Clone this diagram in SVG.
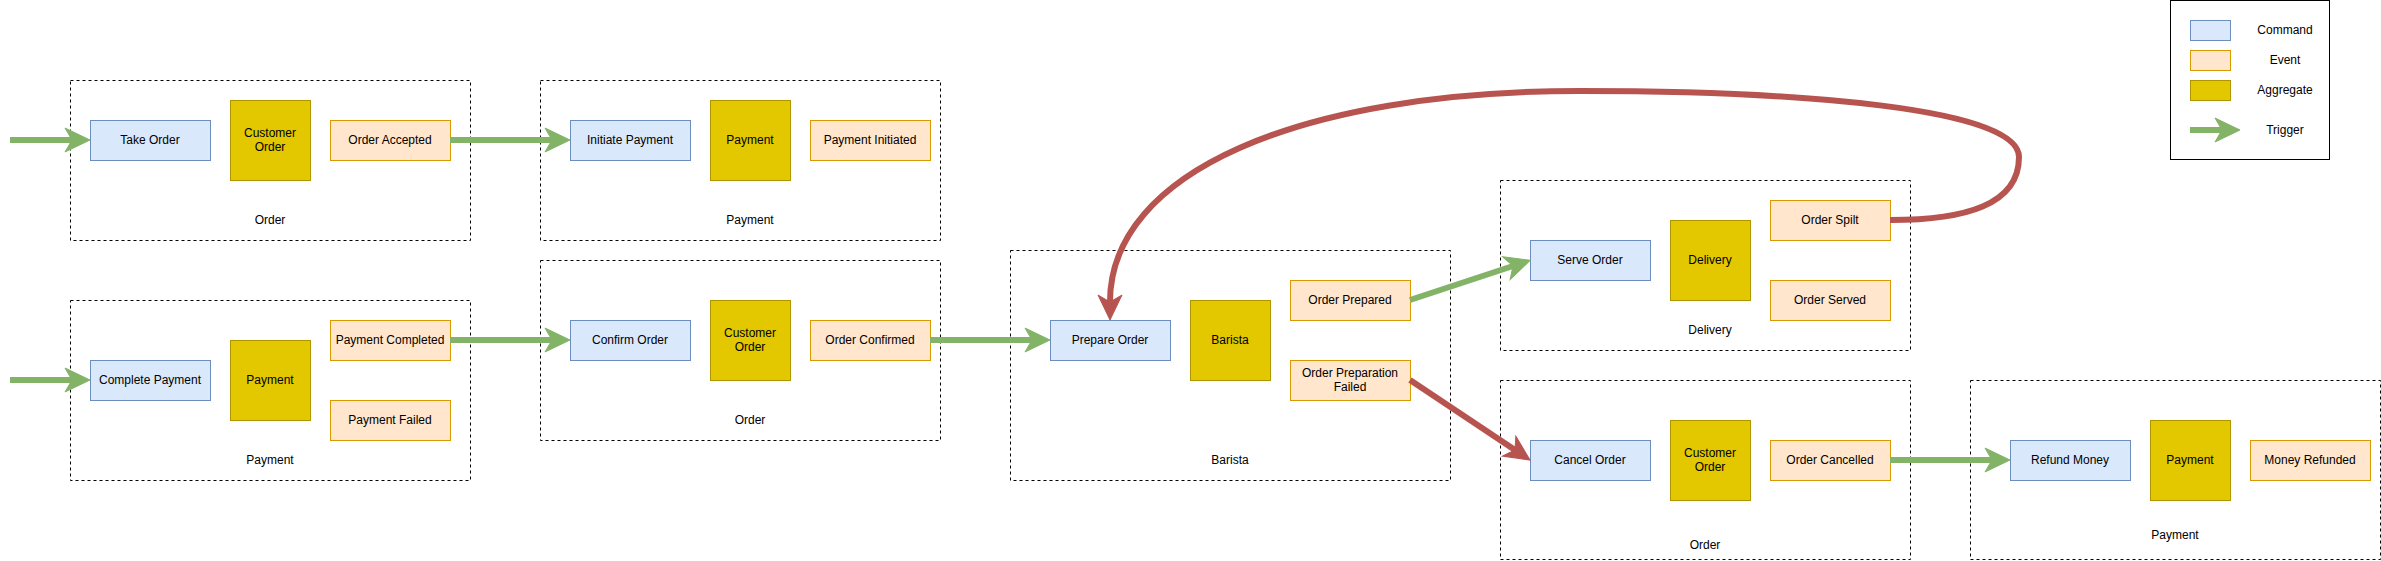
<svg xmlns="http://www.w3.org/2000/svg" width="2381" height="561" viewBox="0 0 2381 561">
<style>
text{font-family:"Liberation Sans",Arial,sans-serif;font-size:12px;fill:#000;text-anchor:middle;dominant-baseline:central}
.grp{fill:none;stroke:#000;stroke-width:1;stroke-dasharray:3 3}
.cmd{fill:#dae8fc;stroke:#6c8ebf;stroke-width:1}
.evt{fill:#ffe6cc;stroke:#d79b00;stroke-width:1}
.agg{fill:#e3c800;stroke:#b09500;stroke-width:1}
.g{fill:none;stroke:#82b366;stroke-width:6}
.r{fill:none;stroke:#b85450;stroke-width:6}
</style>
<defs>
<marker id="ag" markerUnits="userSpaceOnUse" viewBox="-8 -13 27 26" markerWidth="27" markerHeight="26" refX="0" refY="0" orient="auto">
<path d="M18,0 L-7,-12 L0,0 L-7,12 Z" fill="#82b366" stroke="#82b366" stroke-width="1"/>
</marker>
<marker id="ar" markerUnits="userSpaceOnUse" viewBox="-8 -13 27 26" markerWidth="27" markerHeight="26" refX="0" refY="0" orient="auto">
<path d="M18,0 L-7,-12 L0,0 L-7,12 Z" fill="#b85450" stroke="#b85450" stroke-width="1"/>
</marker>
</defs>
<rect width="2381" height="561" fill="#fff"/>

<!-- groups -->
<g id="grp-order-1"><rect class="grp" x="70.5" y="80.5" width="400" height="160"/><text x="270" y="220">Order</text></g>
<g id="grp-payment-1"><rect class="grp" x="540.5" y="80.5" width="400" height="160"/><text x="750" y="220">Payment</text></g>
<g id="grp-payment-2"><rect class="grp" x="70.5" y="300.5" width="400" height="180"/><text x="270" y="460">Payment</text></g>
<g id="grp-order-2"><rect class="grp" x="540.5" y="260.5" width="400" height="180"/><text x="750" y="420">Order</text></g>
<g id="grp-barista"><rect class="grp" x="1010.5" y="250.5" width="440" height="230"/><text x="1230" y="460">Barista</text></g>
<g id="grp-delivery"><rect class="grp" x="1500.5" y="180.5" width="410" height="170"/><text x="1710" y="330">Delivery</text></g>
<g id="grp-order-3"><rect class="grp" x="1500.5" y="380.5" width="410" height="179"/><text x="1705" y="545">Order</text></g>
<g id="grp-payment-3"><rect class="grp" x="1970.5" y="380.5" width="410" height="179"/><text x="2175" y="535">Payment</text></g>

<!-- nodes -->
<g id="take-order"><rect class="cmd" x="90.5" y="120.5" width="120" height="40"/><text x="150" y="140">Take Order</text></g>
<g id="customer-order-1"><rect class="agg" x="230.5" y="100.5" width="80" height="80"/><text x="270" y="133">Customer</text><text x="270" y="147">Order</text></g>
<g id="order-accepted"><rect class="evt" x="330.5" y="120.5" width="120" height="40"/><text x="390" y="140">Order Accepted</text></g>

<g id="initiate-payment"><rect class="cmd" x="570.5" y="120.5" width="120" height="40"/><text x="630" y="140">Initiate Payment</text></g>
<g id="payment-1"><rect class="agg" x="710.5" y="100.5" width="80" height="80"/><text x="750" y="140">Payment</text></g>
<g id="payment-initiated"><rect class="evt" x="810.5" y="120.5" width="120" height="40"/><text x="870" y="140">Payment Initiated</text></g>

<g id="complete-payment"><rect class="cmd" x="90.5" y="360.5" width="120" height="40"/><text x="150" y="380">Complete Payment</text></g>
<g id="payment-2"><rect class="agg" x="230.5" y="340.5" width="80" height="80"/><text x="270" y="380">Payment</text></g>
<g id="payment-completed"><rect class="evt" x="330.5" y="320.5" width="120" height="40"/><text x="390" y="340">Payment Completed</text></g>
<g id="payment-failed"><rect class="evt" x="330.5" y="400.5" width="120" height="40"/><text x="390" y="420">Payment Failed</text></g>

<g id="confirm-order"><rect class="cmd" x="570.5" y="320.5" width="120" height="40"/><text x="630" y="340">Confirm Order</text></g>
<g id="customer-order-2"><rect class="agg" x="710.5" y="300.5" width="80" height="80"/><text x="750" y="333">Customer</text><text x="750" y="347">Order</text></g>
<g id="order-confirmed"><rect class="evt" x="810.5" y="320.5" width="120" height="40"/><text x="870" y="340">Order Confirmed</text></g>

<g id="prepare-order"><rect class="cmd" x="1050.5" y="320.5" width="120" height="40"/><text x="1110" y="340">Prepare Order</text></g>
<g id="barista"><rect class="agg" x="1190.5" y="300.5" width="80" height="80"/><text x="1230" y="340">Barista</text></g>
<g id="order-prepared"><rect class="evt" x="1290.5" y="280.5" width="120" height="40"/><text x="1350" y="300">Order Prepared</text></g>
<g id="order-preparation-failed"><rect class="evt" x="1290.5" y="360.5" width="120" height="40"/><text x="1350" y="373">Order Preparation</text><text x="1350" y="387">Failed</text></g>

<g id="serve-order"><rect class="cmd" x="1530.5" y="240.5" width="120" height="40"/><text x="1590" y="260">Serve Order</text></g>
<g id="delivery"><rect class="agg" x="1670.5" y="220.5" width="80" height="80"/><text x="1710" y="260">Delivery</text></g>
<g id="order-spilt"><rect class="evt" x="1770.5" y="200.5" width="120" height="40"/><text x="1830" y="220">Order Spilt</text></g>
<g id="order-served"><rect class="evt" x="1770.5" y="280.5" width="120" height="40"/><text x="1830" y="300">Order Served</text></g>

<g id="cancel-order"><rect class="cmd" x="1530.5" y="440.5" width="120" height="40"/><text x="1590" y="460">Cancel Order</text></g>
<g id="customer-order-3"><rect class="agg" x="1670.5" y="420.5" width="80" height="80"/><text x="1710" y="453">Customer</text><text x="1710" y="467">Order</text></g>
<g id="order-cancelled"><rect class="evt" x="1770.5" y="440.5" width="120" height="40"/><text x="1830" y="460">Order Cancelled</text></g>

<g id="refund-money"><rect class="cmd" x="2010.5" y="440.5" width="120" height="40"/><text x="2070" y="460">Refund Money</text></g>
<g id="payment-3"><rect class="agg" x="2150.5" y="420.5" width="80" height="80"/><text x="2190" y="460">Payment</text></g>
<g id="money-refunded"><rect class="evt" x="2250.5" y="440.5" width="120" height="40"/><text x="2310" y="460">Money Refunded</text></g>

<!-- legend -->
<g id="legend">
<rect x="2170.5" y="0.5" width="159" height="159" fill="#fff" stroke="#000" stroke-width="1"/>
<rect class="cmd" x="2190.5" y="20.5" width="40" height="20"/><text x="2285" y="30">Command</text>
<rect class="evt" x="2190.5" y="50.5" width="40" height="20"/><text x="2285" y="60">Event</text>
<rect class="agg" x="2190.5" y="80.5" width="40" height="20"/><text x="2285" y="90">Aggregate</text>
<line class="g" x1="2190" y1="130" x2="2222" y2="130" marker-end="url(#ag)"/><text x="2285" y="130">Trigger</text>
</g>

<!-- connectors -->
<g id="connectors">
<line class="g" x1="10" y1="140" x2="72" y2="140" marker-end="url(#ag)"/>
<line class="g" x1="450" y1="140" x2="552" y2="140" marker-end="url(#ag)"/>
<line class="g" x1="10" y1="380" x2="72" y2="380" marker-end="url(#ag)"/>
<line class="g" x1="450" y1="340" x2="552" y2="340" marker-end="url(#ag)"/>
<line class="g" x1="930" y1="340" x2="1032" y2="340" marker-end="url(#ag)"/>
<line class="g" x1="1410" y1="300" x2="1513" y2="266" marker-end="url(#ag)"/>
<line class="r" x1="1410" y1="380" x2="1515" y2="450" marker-end="url(#ar)"/>
<line class="g" x1="1890" y1="460" x2="1992" y2="460" marker-end="url(#ag)"/>
<path class="r" d="M1890,220 C1965,220 2019,205 2019,157 C2019,108 1800,91 1580,91 C1300,91 1110,172 1110,302" marker-end="url(#ar)"/>
</g>
</svg>
